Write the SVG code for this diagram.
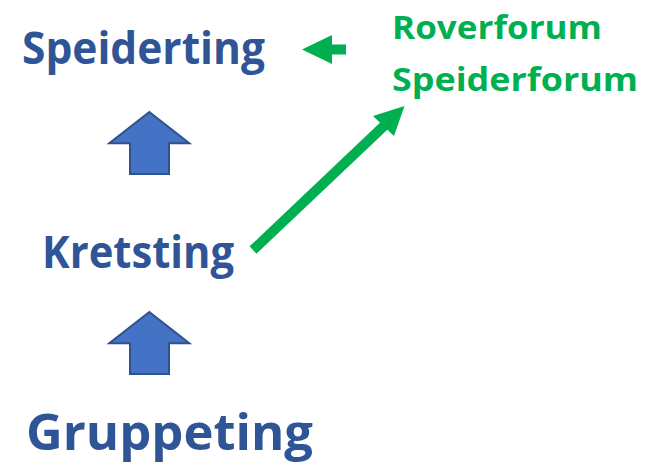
<svg xmlns="http://www.w3.org/2000/svg" width="662" height="466" viewBox="0 0 662 466">
<style>
.t{font-family:"Open Sans","Liberation Sans",sans-serif;font-weight:bold}
.b{fill:#2F5597}
.g{fill:#00B050}
.blk{fill:#4472C4;stroke:#2F528F;stroke-width:2;stroke-linejoin:miter}
</style>
<defs>
<polygon id="up" class="blk" points="149.3,112 109.3,143.3 130,143.3 130,174 169,174 169,143.3 189.3,143.3"/>
</defs>
<rect width="662" height="466" fill="#ffffff"/>
<g id="speiderting"><text class="t b" x="22" y="64" font-size="44" textLength="243" lengthAdjust="spacingAndGlyphs">Speiderting</text></g>
<g id="kretsting"><text class="t b" x="42" y="268" font-size="44" textLength="192" lengthAdjust="spacingAndGlyphs">Kretsting</text></g>
<g id="gruppeting"><text class="t b" x="26" y="450" font-size="50" textLength="287" lengthAdjust="spacingAndGlyphs">Gruppeting</text></g>
<g id="forum">
<text class="t g" x="392" y="38.5" font-size="33" textLength="210" lengthAdjust="spacingAndGlyphs">Roverforum</text>
<text class="t g" x="392" y="91" font-size="33" textLength="246" lengthAdjust="spacingAndGlyphs">Speiderforum</text>
</g>
<g id="connectors">
<use href="#up"/>
<use href="#up" y="200"/>
<polygon fill="#00B050" points="302,49.5 332,35 332,44.5 346,44.5 346,54.5 332,54.5 332,64"/>
<line x1="253" y1="250" x2="386" y2="124" stroke="#00B050" stroke-width="10"/>
<polygon fill="#00B050" points="404.5,106 373,116 394,136"/>
</g>
</svg>
